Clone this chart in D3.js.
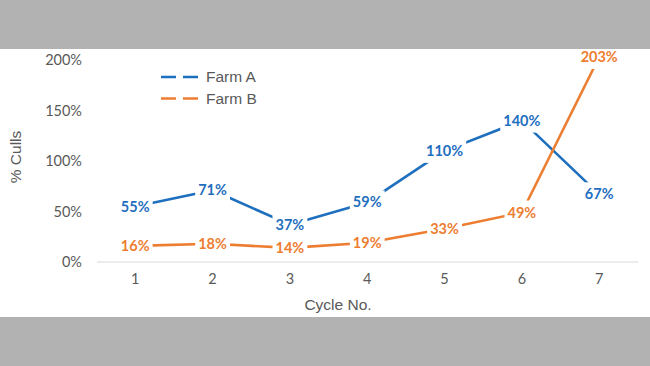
<!DOCTYPE html>
<html><head><meta charset="utf-8">
<script src="https://cdn.jsdelivr.net/npm/d3@7"></script>
<style>html,body{margin:0;padding:0;background:#fff;}svg{display:block;}</style>
</head><body>
<svg id="c" width="650" height="366"></svg>
<script>
const categories = ["1","2","3","4","5","6","7"];
const farmA = [55, 71, 37, 59, 110, 140, 67];
const farmB = [16, 18, 14, 19, 33, 49, 203];
const yTicks = [0, 50, 100, 150, 200];
const seriesNames = ["Farm A", "Farm B"];
const colors = ["#1F6FBF", "#ED7D31"];

const svg = d3.select("#c");
svg.append("rect").attr("x",0).attr("y",0).attr("width",650).attr("height",366).attr("fill","#ffffff");

const x = d3.scalePoint().domain(categories).range([135.2, 599.2]);
const y = d3.scaleLinear().domain([0, 200]).range([262, 60]);

// baseline
svg.append("line").attr("x1",97).attr("x2",638).attr("y1",y(0)).attr("y2",y(0))
  .attr("stroke","#d9d9d9").attr("stroke-width",1.2);

// y tick labels
svg.append("g").selectAll("text").data(yTicks).join("text")
  .attr("x", 82).attr("y", d => y(d)).attr("dy","0.35em")
  .attr("text-anchor","end").attr("font-family","Lato, sans-serif").attr("font-size",14.5)
  .attr("fill","#595959").text(d => d + "%");

// x tick labels
svg.append("g").selectAll("text").data(categories).join("text")
  .attr("x", d => x(d)).attr("y", 279).attr("dy","0.35em")
  .attr("text-anchor","middle").attr("font-family","Lato, sans-serif").attr("font-size",14.5)
  .attr("fill","#595959").text(d => d);

// axis titles
svg.append("text").attr("x",338).attr("y",305).attr("dy","0.35em").attr("text-anchor","middle")
  .attr("font-family","Liberation Sans, Arial, sans-serif").attr("font-size",15.5).attr("fill","#595959").text("Cycle No.");
svg.append("text").attr("transform","translate(16,157) rotate(-90)").attr("dy","0.35em").attr("text-anchor","middle")
  .attr("font-family","Liberation Sans, Arial, sans-serif").attr("font-size",15.5).attr("fill","#595959").text("% Culls");

const line = d3.line().x((d,i) => x(categories[i])).y(d => y(d));
const series = [farmA, farmB];
series.forEach((s, k) => {
  svg.append("path").datum(s).attr("d", line).attr("fill","none")
    .attr("stroke", colors[k]).attr("stroke-width", 2.6).attr("stroke-linejoin","round");
});

// labels with white knockout
series.forEach((s, k) => {
  const g = svg.append("g");
  s.forEach((v, i) => {
    const cx = x(categories[i]), cy = y(v);
    const t = g.append("text").attr("x", cx).attr("y", cy).attr("dy","0.35em")
      .attr("text-anchor","middle").attr("font-family","Lato, sans-serif").attr("font-weight","bold")
      .attr("font-size",14.5).attr("fill",colors[k]).text(v + "%");
    const bb = t.node().getBBox();
    g.insert("rect", () => t.node()).attr("x", bb.x - 3).attr("y", cy - 12).attr("width", bb.width + 6).attr("height", 24)
      .attr("fill", "#fff");
  });
});

// legend
const lg = svg.append("g");
seriesNames.forEach((n, k) => {
  const yy = 77 + k * 21.5;
  lg.append("line").attr("x1",161).attr("x2",199).attr("y1",yy).attr("y2",yy)
    .attr("stroke",colors[k]).attr("stroke-width",2.6).attr("stroke-dasharray","15,7");
  lg.append("text").attr("x",206).attr("y",yy).attr("dy","0.35em")
    .attr("font-family","Liberation Sans, Arial, sans-serif").attr("font-size",15.5).attr("fill","#595959").text(n);
});

// gray letterbox bands on top
svg.append("rect").attr("x",0).attr("y",0).attr("width",650).attr("height",49).attr("fill","#b2b2b2");
svg.append("rect").attr("x",0).attr("y",317).attr("width",650).attr("height",49).attr("fill","#b2b2b2");
</script>
</body></html>
